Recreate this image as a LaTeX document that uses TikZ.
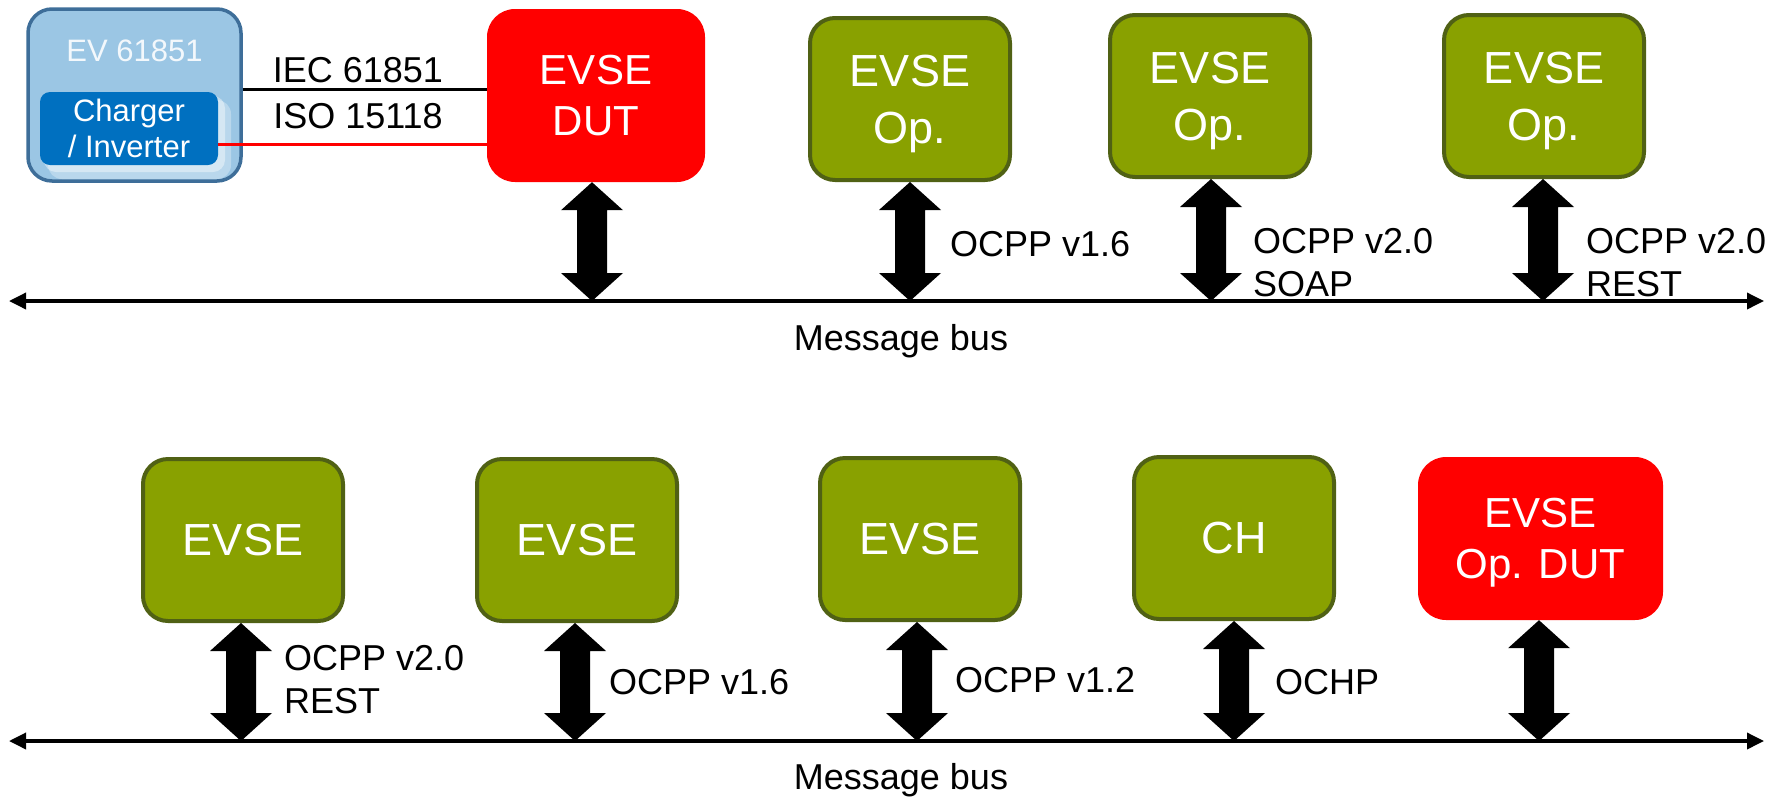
\documentclass[tikz,border=0pt]{standalone}
\usepackage{fontspec}
\setmainfont{Liberation Sans}
\usetikzlibrary{arrows.meta,calc}
\definecolor{olivefill}{RGB}{137,161,0}
\definecolor{oliveline}{RGB}{80,97,20}
\definecolor{evblue}{RGB}{155,198,228}
\definecolor{evborder}{RGB}{62,110,153}
\definecolor{chblue}{RGB}{0,112,192}
\definecolor{dutred}{RGB}{255,0,0}
\newcommand\blkarrow[2]{%
  \fill let \p1=(#1.south), \p2=(#2) in
    (\x2,\y1) -- (\x2+31pt,\y1-28pt) -- (\x2+15pt,\y1-28pt) -- (\x2+15pt,\y2+28pt)
    -- (\x2+31pt,\y2+28pt) -- (\x2,\y2) -- (\x2-31pt,\y2+28pt) -- (\x2-15pt,\y2+28pt)
    -- (\x2-15pt,\y1-28pt) -- (\x2-31pt,\y1-28pt) -- cycle;}
\begin{document}
\begin{tikzpicture}[x=1pt,y=-1pt,
  greenbox/.style={draw=oliveline,line width=4pt,fill=olivefill,rounded corners=25pt,
    minimum width=200pt,minimum height=162pt,text=white,align=center,inner sep=0pt,
    font=\fontsize{45}{57}\selectfont},
  redbox/.style={fill=dutred,rounded corners=28pt,text=white,align=center,inner sep=0pt,
    font=\fontsize{42}{51}\selectfont},
  lbl/.style={anchor=west,inner sep=0pt,align=left,font=\fontsize{36}{43}\selectfont},
  bus/.style={line width=3.5pt,{Triangle[length=17pt,width=16pt]}-{Triangle[length=17pt,width=16pt]}},
  evbox/.style={draw=evborder,line width=3.5pt,fill=evblue,rounded corners=24pt,
    minimum width=213pt,minimum height=172pt,inner sep=0pt},
  chbox/.style={fill=chblue,rounded corners=10pt,minimum width=178pt,minimum height=73pt,
    inner sep=0pt,text=white,align=center,font=\fontsize{31}{36}\selectfont}
]
\useasboundingbox (0,0) rectangle (1783,796);

% EV block
\node[evbox] (ev) at (134.5,95) {};
\fill[white,opacity=0.3,rounded corners=14pt] (48,100) rectangle (231,179);
\fill[white,opacity=0.4,rounded corners=12pt] (44,96) rectangle (225,172);
\node[text=white!88!evblue,inner sep=0pt,font=\fontsize{31}{36}\selectfont] (evlabel) at (134.5,51) {EV 61851};
\node[chbox] (charger) at (129,128.5) {Charger\\/ Inverter};

% top row
\node[redbox,minimum width=218pt,minimum height=173pt] (dut) at (596,95.5) {EVSE\\DUT};
\node[greenbox] (op1) at (910,99) {EVSE\\\smash{Op.}};
\node[greenbox] (op2) at (1210,96) {EVSE\\\smash{Op.}};
\node[greenbox] (op3) at (1544,96) {EVSE\\\smash{Op.}};

% EV -- DUT links
\draw[line width=3pt,black] ([yshift=6pt]ev.east) -- ([yshift=6pt]ev.east -| dut.west);
\draw[line width=3pt,dutred] ([yshift=-15.5pt]charger.east) -- ([yshift=-15.5pt]charger.east -| dut.west);
\node[lbl,anchor=center] (iec) at (358,70) {IEC 61851};
\node[lbl,anchor=center] (iso) at (358,116) {ISO 15118};

% top bus
\coordinate (busAL) at (9,301);
\coordinate (busAR) at (1764,301);
\draw[bus] (busAL) -- (busAR);
\node[lbl,anchor=base] (mbA) at (901,350) {Message bus};
\coordinate (tA1) at (592,301);
\coordinate (tA2) at (910,301);
\coordinate (tA3) at (1211,301);
\coordinate (tA4) at (1543,301);
\blkarrow{dut}{tA1}
\blkarrow{op1}{tA2}
\blkarrow{op2}{tA3}
\blkarrow{op3}{tA4}
\node[lbl] (lA2) at (950,244) {OCPP v1.6};
\node[lbl] (lA3) at (1253,263) {OCPP v2.0\\SOAP};
\node[lbl] (lA4) at (1586,263) {OCPP v2.0\\REST};

% bottom row
\node[greenbox] (ev1) at (243,540) {EVSE};
\node[greenbox] (ev2) at (577,540) {EVSE};
\node[greenbox] (ev3) at (920,539) {EVSE};
\node[greenbox] (ch) at (1234,538) {CH};
\node[redbox,minimum width=245pt,minimum height=163pt] (opdut) at (1540.5,538.5) {EVSE\\\smash{Op. DUT}};

\coordinate (busBL) at (9,741);
\coordinate (busBR) at (1764,741);
\draw[bus] (busBL) -- (busBR);
\node[lbl,anchor=base] (mbB) at (901,789) {Message bus};
\coordinate (tB1) at (241,741);
\coordinate (tB2) at (575,741);
\coordinate (tB3) at (917,741);
\coordinate (tB4) at (1234,741);
\coordinate (tB5) at (1539,741);
\blkarrow{ev1}{tB1}
\blkarrow{ev2}{tB2}
\blkarrow{ev3}{tB3}
\blkarrow{ch}{tB4}
\blkarrow{opdut}{tB5}
\node[lbl] (lB1) at (284,680) {OCPP v2.0\\REST};
\node[lbl] (lB2) at (609,682) {OCPP v1.6};
\node[lbl] (lB3) at (955,680) {OCPP v1.2};
\node[lbl] (lB4) at (1275,682) {OCHP};
\end{tikzpicture}
\end{document}
